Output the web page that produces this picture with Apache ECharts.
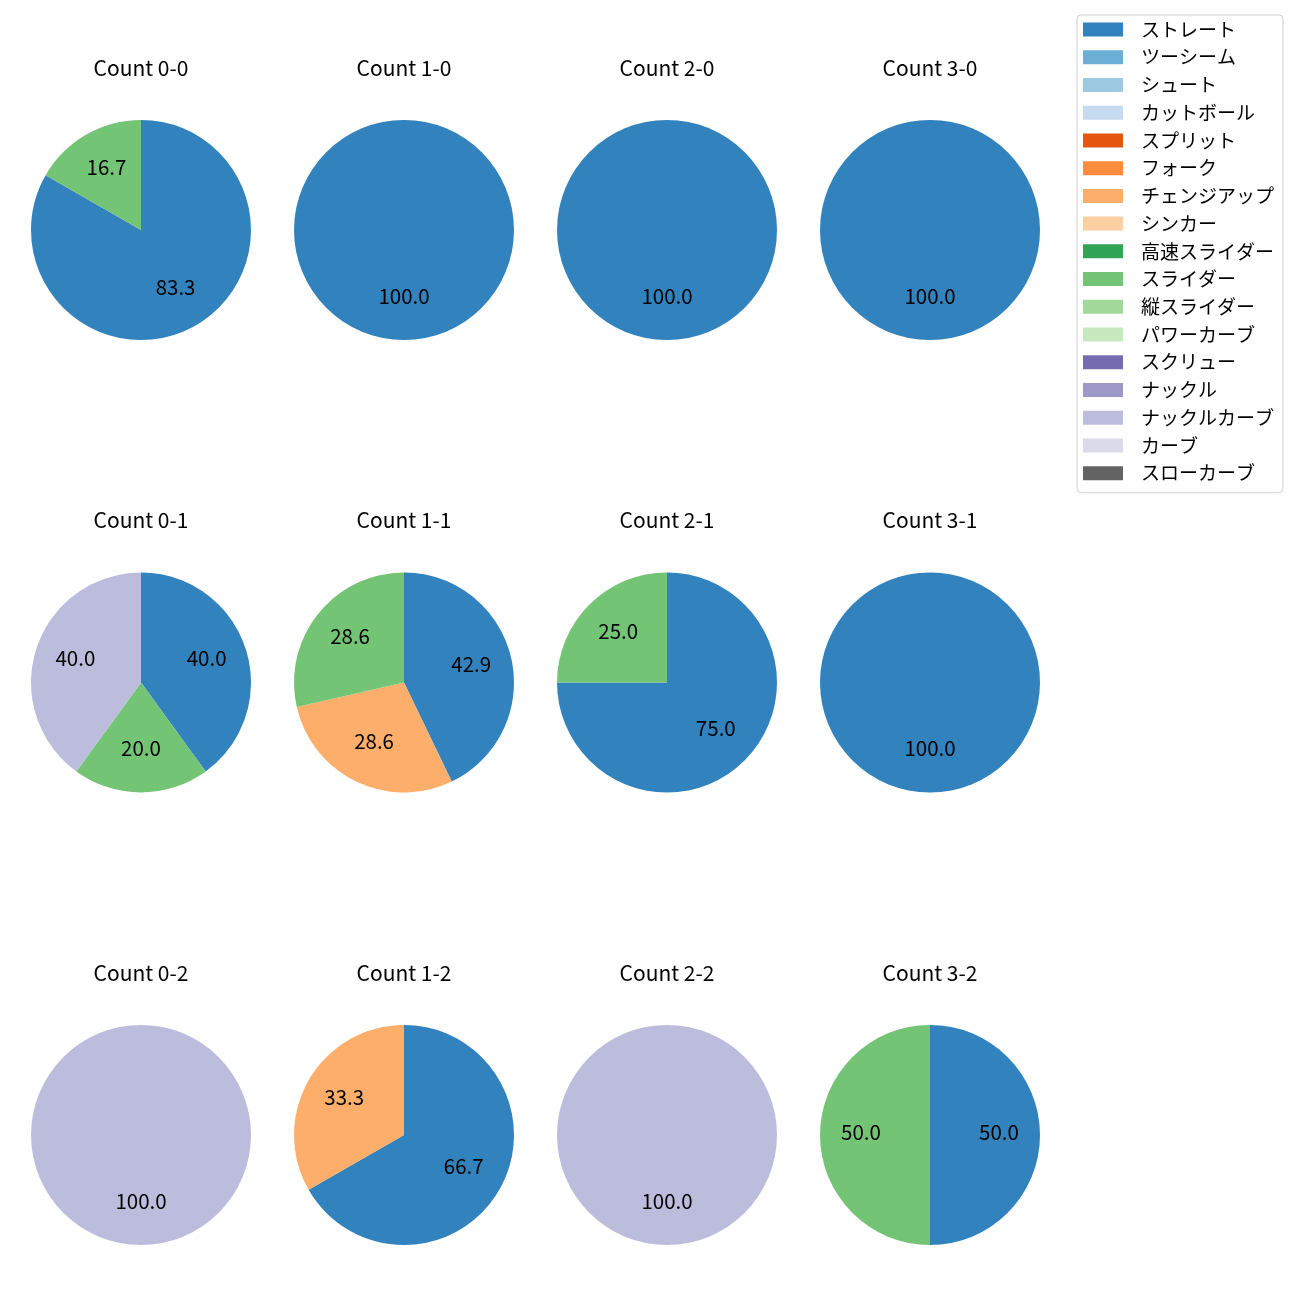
<!DOCTYPE html>
<html>
<head>
<meta charset="utf-8">
<script src="https://cdn.jsdelivr.net/npm/echarts@6/dist/echarts.min.js"></script>
<style>html,body{margin:0;padding:0;background:#fff}#chart{width:1300px;height:1300px}</style>
</head>
<body>
<div id="chart"></div>
<script>
const pitchTypes = ['ストレート','ツーシーム','シュート','カットボール','スプリット','フォーク','チェンジアップ','シンカー','高速スライダー','スライダー','縦スライダー','パワーカーブ','スクリュー','ナックル','ナックルカーブ','カーブ','スローカーブ'];
const pitchColors = ['#3182bd','#6baed6','#9ecae1','#c6dbef','#e6550d','#fd8d3c','#fdae6b','#fdd0a2','#31a354','#74c476','#a1d99b','#c7e9c0','#756bb1','#9e9ac8','#bcbddc','#dadaeb','#636363'];
const countTitles = ['Count 0-0','Count 1-0','Count 2-0','Count 3-0','Count 0-1','Count 1-1','Count 2-1','Count 3-1','Count 0-2','Count 1-2','Count 2-2','Count 3-2'];
// percentages per pitch type (same order as pitchTypes)
const v00 = [83.3,0,0,0,0,0,0,0,0,16.7,0,0,0,0,0,0,0];
const v10 = [100,0,0,0,0,0,0,0,0,0,0,0,0,0,0,0,0];
const v20 = [100,0,0,0,0,0,0,0,0,0,0,0,0,0,0,0,0];
const v30 = [100,0,0,0,0,0,0,0,0,0,0,0,0,0,0,0,0];
const v01 = [40,0,0,0,0,0,0,0,0,20,0,0,0,0,40,0,0];
const v11 = [42.9,0,0,0,0,0,28.6,0,0,28.6,0,0,0,0,0,0,0];
const v21 = [75,0,0,0,0,0,0,0,0,25,0,0,0,0,0,0,0];
const v31 = [100,0,0,0,0,0,0,0,0,0,0,0,0,0,0,0,0];
const v02 = [0,0,0,0,0,0,0,0,0,0,0,0,0,0,100,0,0];
const v12 = [66.7,0,0,0,0,0,33.3,0,0,0,0,0,0,0,0,0,0];
const v22 = [0,0,0,0,0,0,0,0,0,0,0,0,0,0,100,0,0];
const v32 = [50,0,0,0,0,0,0,0,0,50,0,0,0,0,0,0,0];
const panels = [v00,v10,v20,v30,v01,v11,v21,v31,v02,v12,v22,v32];

const FONT = '"Noto Sans CJK JP", "Noto Sans", sans-serif';
const R = 110;
const colX = i => 141 + 263 * i;
const rowY = j => 230 + 452.5 * j;

const series = [];
const titles = [];
// legend carrier series (not visible)
series.push({
  type: 'pie', name: 'legend', center: [-500, -500], radius: [0, 1], silent: true,
  label: {show: false}, labelLine: {show: false},
  data: pitchTypes.map((n, k) => ({name: n, value: 1, itemStyle: {color: pitchColors[k]}}))
});
panels.forEach((vals, p) => {
  const cx = colX(p % 4), cy = rowY(Math.floor(p / 4));
  const data = [];
  vals.forEach((v, k) => { if (v > 0) data.push({name: pitchTypes[k], value: v, itemStyle: {color: pitchColors[k]}}); });
  series.push({
    type: 'pie', center: [cx, cy], radius: [0, R], startAngle: 90, clockwise: true,
    silent: true, animation: false, label: {show: false}, labelLine: {show: false},
    itemStyle: {borderWidth: 0}, data: data
  });
  series.push({
    type: 'pie', center: [cx, cy], radius: [R * 0.2, R], startAngle: 90, clockwise: true,
    silent: true, animation: false, labelLine: {show: false},
    itemStyle: {color: 'rgba(0,0,0,0)', borderWidth: 0},
    label: {show: true, position: 'inside', color: '#000', fontFamily: FONT, fontSize: 20.5,
      offset: [0, -3], formatter: prm => prm.value.toFixed(1)},
    data: data.map(d => ({name: d.name, value: d.value, itemStyle: {color: 'rgba(0,0,0,0)'}}))
  });
  titles.push({
    text: countTitles[p], left: cx, top: cy - 162, textAlign: 'center', textVerticalAlign: 'middle',
    padding: 0, textStyle: {fontFamily: FONT, fontSize: 21, fontWeight: 'normal', color: '#000'}
  });
});

const chart = echarts.init(document.getElementById('chart'), null, {renderer: 'canvas'});
chart.setOption({
  animation: false,
  backgroundColor: '#fff',
  title: titles,
  legend: {
    data: pitchTypes, orient: 'vertical', left: 1077, top: 15,
    padding: [5, 9, 10, 6], itemWidth: 40, itemHeight: 14, itemGap: 8.73,
    icon: 'rect', borderColor: '#d0d0d0', borderWidth: 1, borderRadius: 4,
    selectedMode: false,
    textStyle: {fontFamily: FONT, fontSize: 19, color: '#000', padding: [0, 0, 0, 13]}
  },
  series: series
});
</script>
</body>
</html>
